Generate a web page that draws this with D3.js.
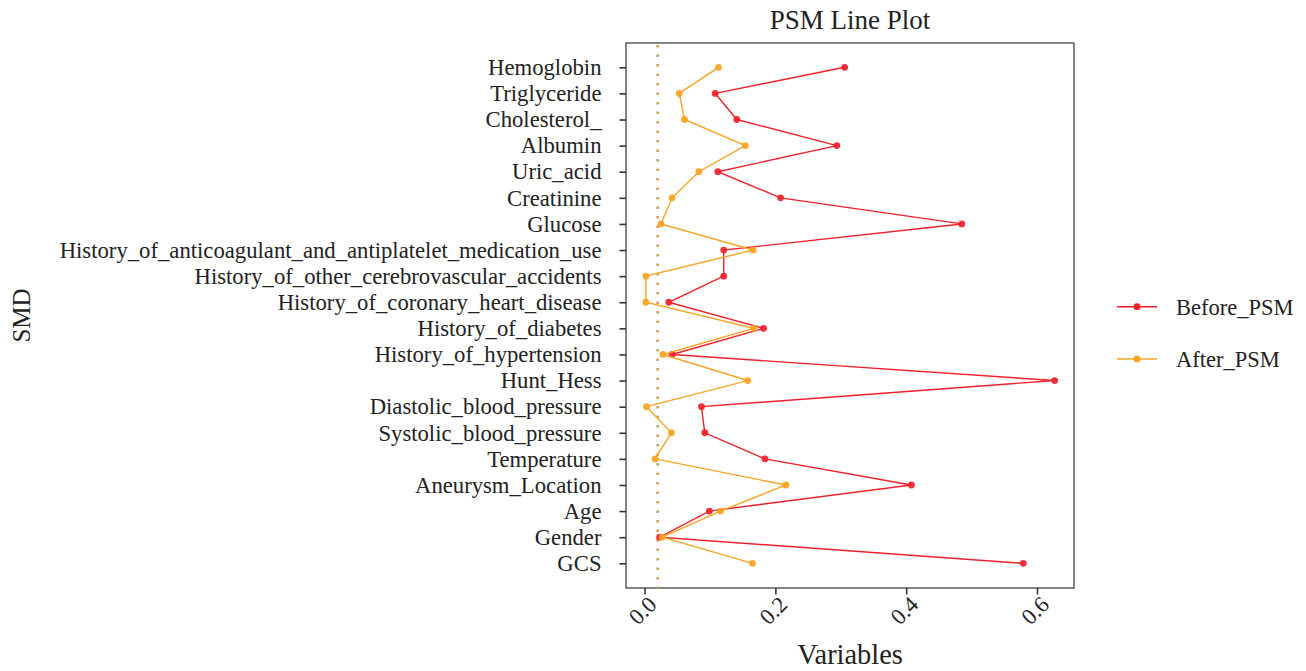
<!DOCTYPE html>
<html><head><meta charset="utf-8">
<script src="https://cdn.jsdelivr.net/npm/d3@7"></script>
<style>body{margin:0;background:#fff}</style>
</head><body><svg id="c" width="1306" height="671"></svg>
<script>
const categories = ["Hemoglobin","Triglyceride","Cholesterol_","Albumin","Uric_acid","Creatinine","Glucose",
 "History_of_anticoagulant_and_antiplatelet_medication_use","History_of_other_cerebrovascular_accidents",
 "History_of_coronary_heart_disease","History_of_diabetes","History_of_hypertension","Hunt_Hess",
 "Diastolic_blood_pressure","Systolic_blood_pressure","Temperature","Aneurysm_Location","Age","Gender","GCS"];
const beforePSM = [0.306,0.108,0.141,0.294,0.112,0.208,0.485,0.121,0.121,0.037,0.182,0.042,0.627,0.087,0.092,0.184,0.408,0.099,0.023,0.579];
const afterPSM  = [0.113,0.053,0.061,0.154,0.083,0.042,0.025,0.166,0.002,0.002,0.167,0.028,0.158,0.003,0.041,0.016,0.216,0.116,0.027,0.165];
const xTicks = [0.0,0.2,0.4,0.6];
const threshold = 0.02;
const seriesNames = ["Before_PSM","After_PSM"];
const colors = ["#F0202A","#F9A320"];

const svg = d3.select("#c");
const font = "'Liberation Serif','Times New Roman',serif";
const L = 626, R = 1074, T = 43, B = 588;
const x = d3.scaleLinear().domain([-0.0284, 0.6566]).range([L, R]);
const y = d3.scalePoint().domain(categories).range([67.3, 563.3]);

svg.append("rect").attr("x",L).attr("y",T).attr("width",R-L).attr("height",B-T)
  .attr("fill","#fff").attr("stroke","#333").attr("stroke-width",1.2);

// threshold line
svg.append("line").attr("x1",x(threshold)).attr("x2",x(threshold)).attr("y1",T+2).attr("y2",B)
  .attr("stroke","#CF9F63").attr("stroke-width",2.6).attr("stroke-dasharray","2.6,6.9");

// y axis
const yAxis = svg.append("g").attr("transform",`translate(${L},0)`)
  .call(d3.axisLeft(y).tickSize(6.5).tickPadding(18));
yAxis.select(".domain").remove();
yAxis.selectAll(".tick line").attr("stroke","#333").attr("stroke-width",1.6);
yAxis.selectAll(".tick text").attr("font-family",font).attr("font-size",22.7).attr("fill","#222");

// x axis
const xAxis = svg.append("g").attr("transform",`translate(0,${B})`)
  .call(d3.axisBottom(x).tickValues(xTicks).tickFormat(d3.format(".1f")).tickSize(6.5));
xAxis.select(".domain").remove();
xAxis.selectAll(".tick line").attr("stroke","#333").attr("stroke-width",1.6);
xAxis.selectAll(".tick text").attr("font-family",font).attr("font-size",22.7).attr("fill","#222")
  .attr("text-anchor","end").attr("dy",0).attr("y",0)
  .attr("transform","translate(13,18) rotate(-45)");

const series = [beforePSM, afterPSM];
const line = d3.line().x(d=>x(d.v)).y(d=>y(d.c));
series.forEach((s,i)=>{
  const data = s.map((v,j)=>({v, c:categories[j]}));
  svg.append("path").datum(data).attr("d",line).attr("fill","none")
    .attr("stroke",colors[i]).attr("stroke-width",1.4);
  svg.append("g").selectAll("circle").data(data).join("circle")
    .attr("cx",d=>x(d.v)).attr("cy",d=>y(d.c)).attr("r",3.4).attr("fill",colors[i]).attr("fill-opacity",0.92);
});

// titles
svg.append("text").attr("x",(L+R)/2).attr("y",29).attr("text-anchor","middle")
  .attr("font-family",font).attr("font-size",27).attr("fill","#222").text("PSM Line Plot");
svg.append("text").attr("x",(L+R)/2).attr("y",664).attr("text-anchor","middle")
  .attr("font-family",font).attr("font-size",28.4).attr("fill","#222").text("Variables");
svg.append("text").attr("transform",`translate(30,${(T+B)/2}) rotate(-90)`).attr("text-anchor","middle")
  .attr("font-family",font).attr("font-size",25).attr("fill","#222").text("SMD");

// legend
const lg = svg.append("g");
const ly = [306.7, 359];
seriesNames.forEach((n,i)=>{
  lg.append("line").attr("x1",1117).attr("x2",1157).attr("y1",ly[i]).attr("y2",ly[i])
    .attr("stroke",colors[i]).attr("stroke-width",1.4);
  lg.append("circle").attr("cx",1137).attr("cy",ly[i]).attr("r",3.4).attr("fill",colors[i]);
  lg.append("text").attr("x",1176).attr("y",ly[i]).attr("dy","0.35em")
    .attr("font-family",font).attr("font-size",22.5).attr("fill","#222").text(n);
});
</script></body></html>
